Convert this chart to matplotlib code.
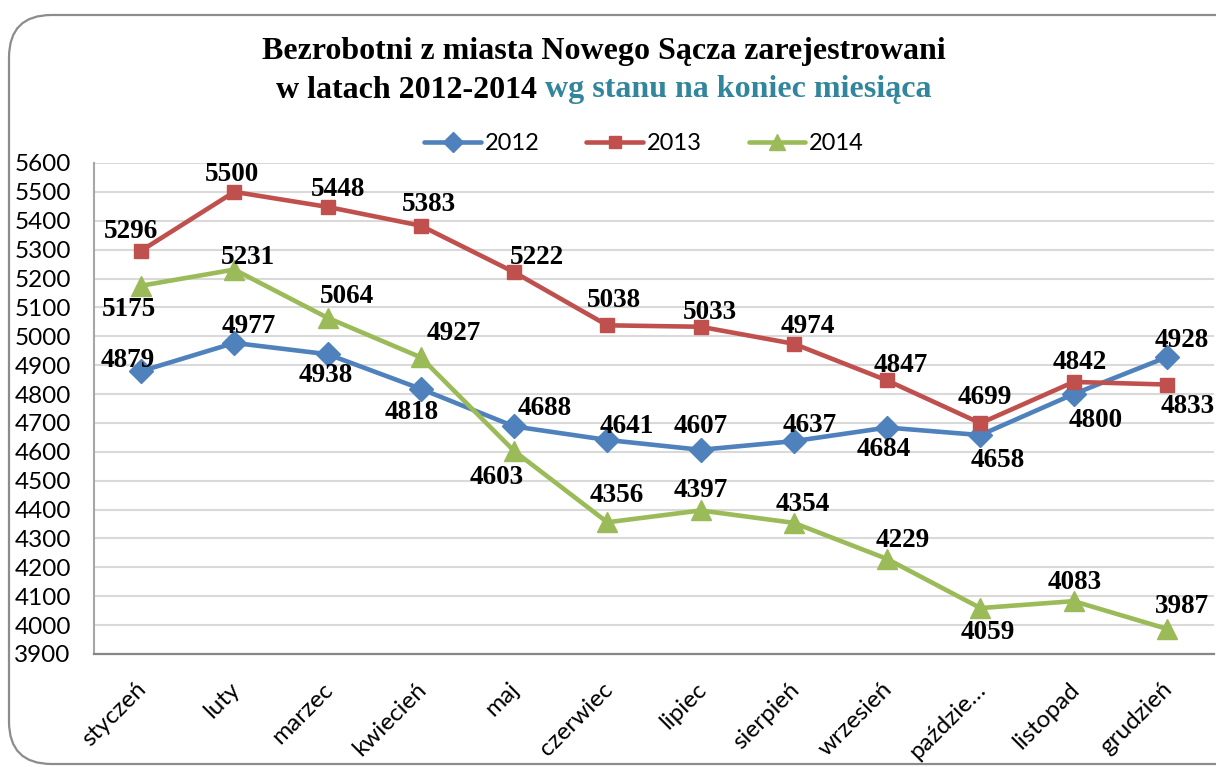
import matplotlib
matplotlib.use("Agg")
import matplotlib.pyplot as plt
from matplotlib.patches import FancyBboxPatch
from matplotlib.transforms import ScaledTranslation
import numpy as np

months = ["styczeń", "luty", "marzec", "kwiecień", "maj", "czerwiec", "lipiec",
          "sierpień", "wrzesień", "paździe…", "listopad", "grudzień"]
series_names = ["2012", "2013", "2014"]
v2012 = [4879, 4977, 4938, 4818, 4688, 4641, 4607, 4637, 4684, 4658, 4800, 4928]
v2013 = [5296, 5500, 5448, 5383, 5222, 5038, 5033, 4974, 4847, 4699, 4842, 4833]
v2014 = [5175, 5231, 5064, 4927, 4603, 4356, 4397, 4354, 4229, 4059, 4083, 3987]
yticks = list(range(3900, 5601, 100))

# label offsets in pixels (dx right, dy up) relative to the data point
off2012 = [(-13, 11), (14, 16), (-2, -21), (-9, -24), (31, 18), (19, 13), (0, 23),
           (16, 16), (-3, -22), (17, -25), (22, -26), (15, 17)]
off2013 = [(-10, 19), (-2, 17), (10, 17), (8, 21), (23, 15), (7, 25), (9, 14),
           (14, 17), (14, 15), (4, 26), (6, 19), (21, -22)]
off2014 = [(-12, -24), (14, 12), (19, 21), (33, 24), (-17, -27), (9, 27), (0, 20),
           (9, 18), (16, 18), (7, -24), (1, 19), (15, 22)]

colors = ["#4F81BD", "#C0504D", "#9BBB59"]
markers = ["D", "s", "^"]
msizes = [12, 10, 14]

W, H = 1216, 767
fig = plt.figure(figsize=(W / 100, H / 100), dpi=100)
fig.patch.set_facecolor("white")

# rounded frame
frame = FancyBboxPatch((9 / W, 3 / H), 1.2, (752 - 3) / H,
                       boxstyle="round,pad=0,rounding_size=0.035",
                       transform=fig.transFigure, facecolor="none",
                       edgecolor="#8C8C8C", linewidth=1.6, mutation_aspect=W / H)
fig.patches.append(frame)

left, right, top, bottom = 94.4, 1213.6, 163, 654
ax = fig.add_axes([left / W, 1 - bottom / H, (right - left) / W, (bottom - top) / H])
x = np.arange(len(months))
ax.set_xlim(-0.5, len(months) - 0.5)
ax.set_ylim(3900, 5600)
ax.set_yticks(yticks)
ax.set_xticks(x)
ax.yaxis.grid(True, color="#D9D9D9", linewidth=1.5)
ax.set_axisbelow(True)
for s in ["top", "right"]:
    ax.spines[s].set_visible(False)
ax.spines["left"].set_color("#A6A6A6")
ax.spines["left"].set_linewidth(1.5)
ax.spines["bottom"].set_color("#868686")
ax.spines["bottom"].set_linewidth(1.6)
ax.tick_params(axis="both", length=0)
ax.tick_params(axis="y", pad=17, labelsize=17.5)
ax.set_yticklabels([str(t) for t in yticks], fontfamily="Lato")
ax.set_xticklabels(months, rotation=45, ha="right", va="center",
                   rotation_mode="anchor", fontfamily="Lato", fontsize=17.5)
ax.tick_params(axis="x", pad=23)
for lab in ax.get_xticklabels():
    lab.set_transform(lab.get_transform() + ScaledTranslation(2 / 100, 0, fig.dpi_scale_trans))

all_vals = [v2012, v2013, v2014]
all_offs = [off2012, off2013, off2014]
lines = []
for name, vals, offs, c, m, ms in zip(series_names, all_vals, all_offs, colors, markers, msizes):
    ln, = ax.plot(x, vals, color=c, linewidth=3.3, marker=m, markersize=ms,
                  markeredgecolor=c, label=name, solid_capstyle="round",
                  solid_joinstyle="round")
    lines.append(ln)
    for xi, v, (dx, dy) in zip(x, vals, offs):
        ax.annotate(str(v), (xi, v), xytext=(dx * 0.72, dy * 0.72),
                    textcoords="offset points", ha="center", va="center",
                    fontfamily="Liberation Serif", fontweight="bold",
                    fontsize=19.5, color="black")

leg = fig.legend(handles=lines, loc="center", bbox_to_anchor=(644 / W, 1 - 144 / H),
                 ncol=3, frameon=False, prop={"family": "Lato", "size": 17},
                 handlelength=2.4, handletextpad=0.15, columnspacing=2.0,
                 markerscale=0.85)

# title
tfont = dict(fontfamily="Liberation Serif", fontweight="bold", fontsize=23)
fig.text(604 / W, 1 - 52 / H, "Bezrobotni z miasta Nowego Sącza zarejestrowani",
         ha="center", va="center", color="black", **tfont)
part1 = "w latach 2012-2014 "
part2 = "wg stanu na koniec miesiąca"
fig.canvas.draw()
r = fig.canvas.get_renderer()
t1 = fig.text(0, 1 - 90 / H, part1, ha="left", va="center", color="black", **tfont)
t2 = fig.text(0, 1 - 90 / H, part2, ha="left", va="center", color="#31859C", **tfont)
w1 = t1.get_window_extent(r).width
w2 = t2.get_window_extent(r).width
start = 604 - (w1 + w2) / 2
t1.set_x(start / W)
t2.set_x((start + w1) / W)

fig.savefig("out.png", dpi=100, facecolor="white")
